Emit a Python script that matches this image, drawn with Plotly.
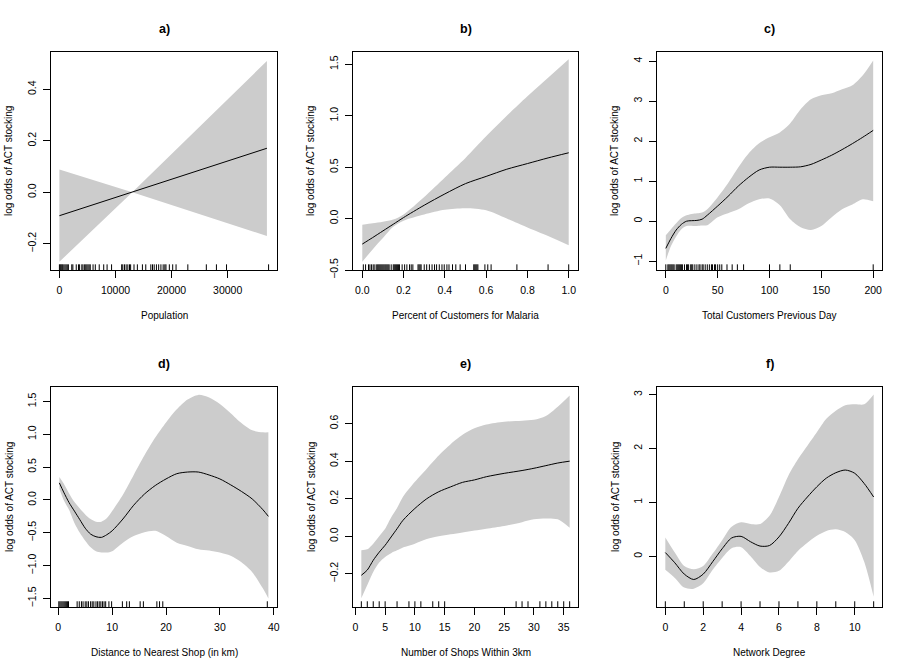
import plotly.graph_objects as go

# ---------------- data ----------------
# a) Population
a_x = [0, 13000, 37000]
a_fit = [-0.091, 0.0, 0.171]
a_lo = [-0.27, 0.0, -0.17]
a_hi = [0.088, 0.0, 0.51]
a_rug = [0, 150, 300, 450, 600, 800, 1000, 1200, 1400, 1600, 2200, 2400, 3000, 3400, 3600,
         4000, 4200, 4500, 4700, 4900, 5100, 5300, 5500, 6000, 6400, 7100, 7900, 8500, 9300,
         11100, 11300, 11600, 11900, 12200, 12500, 12700, 13300, 13900, 14800, 15400, 16300,
         16600, 16900, 17300, 17700, 18100, 18500, 18800, 19000, 19600, 20200, 20800, 22900,
         26200, 28000, 29800, 37300]

# b) Percent of Customers for Malaria
b_x = [0, 0.05, 0.1, 0.15, 0.2, 0.3, 0.4, 0.5, 0.6, 0.7, 0.8, 0.9, 1.0]
b_fit = [-0.248, -0.185, -0.12, -0.055, 0.01, 0.13, 0.24, 0.34, 0.41, 0.48, 0.535, 0.59, 0.64]
b_hi = [-0.06, -0.045, -0.03, -0.01, 0.04, 0.21, 0.40, 0.59, 0.80, 1.0, 1.19, 1.37, 1.55]
b_lo = [-0.42, -0.30, -0.19, -0.08, -0.02, 0.04, 0.085, 0.10, 0.08, 0.0, -0.087, -0.17, -0.26]
b_rug = [0.005, 0.016, 0.03, 0.037, 0.045, 0.053, 0.061, 0.07, 0.075, 0.08, 0.085, 0.09, 0.095,
         0.1, 0.105, 0.11, 0.115, 0.12, 0.125, 0.13, 0.14, 0.15, 0.155, 0.16, 0.165, 0.17, 0.175,
         0.18, 0.193, 0.205, 0.216, 0.229, 0.237, 0.245, 0.27, 0.275, 0.28, 0.285, 0.3, 0.312,
         0.325, 0.338, 0.35, 0.36, 0.373, 0.386, 0.397, 0.41, 0.42, 0.437, 0.453, 0.474, 0.5,
         0.54, 0.545, 0.55, 0.555, 0.56, 0.594, 0.608, 0.624, 0.749, 0.9, 1.0]

# c) Total Customers Previous Day
c_x = [0, 5, 10, 15, 20, 30, 35, 40, 50, 60, 70, 80, 90, 100, 110, 120, 130, 140, 150, 160,
       170, 180, 190, 200]
c_fit = [-0.68, -0.43, -0.22, -0.08, 0.0, 0.02, 0.05, 0.15, 0.38, 0.62, 0.88, 1.1, 1.28, 1.35,
         1.35, 1.35, 1.36, 1.42, 1.53, 1.65, 1.79, 1.94, 2.1, 2.27]
c_hi = [-0.35, -0.2, -0.05, 0.08, 0.15, 0.2, 0.22, 0.3, 0.6, 0.95, 1.35, 1.7, 1.95, 2.1, 2.22,
        2.45, 2.8, 3.05, 3.15, 3.2, 3.3, 3.4, 3.65, 4.02]
c_lo = [-0.98, -0.62, -0.38, -0.2, -0.12, -0.12, -0.11, -0.1, 0.1, 0.2, 0.3, 0.45, 0.55, 0.57,
        0.4, 0.05, -0.15, -0.22, -0.12, 0.1, 0.3, 0.42, 0.55, 0.5]
c_rug = [0, 2, 3, 4, 5, 6, 7, 8, 10, 11, 12, 13, 14, 15, 16, 18, 20, 21, 22, 24, 25, 26, 28,
         30, 32, 33, 35, 36, 38, 40, 42, 44, 45, 47, 48, 50, 52, 54, 59, 64, 69, 75, 100, 110,
         120, 200]

# d) Distance to Nearest Shop (in km)
d_x = [0.2, 1, 2, 3, 4, 5, 6, 7, 8, 9, 10, 12, 14, 16, 18, 20, 22, 24, 26, 28, 30, 32, 34, 36,
       38, 39]
d_fit = [0.26, 0.12, -0.04, -0.17, -0.3, -0.43, -0.52, -0.56, -0.57, -0.53, -0.47, -0.29, -0.08,
         0.09, 0.22, 0.32, 0.40, 0.425, 0.425, 0.38, 0.32, 0.23, 0.13, 0.015, -0.15, -0.25]
d_hi = [0.35, 0.25, 0.1, -0.03, -0.13, -0.22, -0.29, -0.33, -0.33, -0.28, -0.17, 0.08, 0.38,
        0.68, 0.95, 1.18, 1.38, 1.53, 1.6, 1.56, 1.46, 1.32, 1.17, 1.06, 1.03, 1.03]
d_lo = [0.17, 0.0, -0.15, -0.35, -0.5, -0.62, -0.72, -0.78, -0.8, -0.8, -0.78, -0.65, -0.55,
        -0.49, -0.47, -0.55, -0.65, -0.7, -0.75, -0.77, -0.8, -0.85, -0.95, -1.1, -1.35, -1.5]
d_rug = [0.1, 0.3, 0.5, 0.7, 0.9, 1.1, 1.3, 1.5, 1.7, 1.9, 3.5, 3.9, 4.3, 4.6, 5.0, 5.3, 5.6,
         6.0, 6.3, 6.6, 7.0, 7.3, 7.6, 7.9, 8.2, 8.5, 8.8, 9.4, 9.9, 11.9, 12.7, 13.2, 15.2,
         15.8, 18.3, 18.8, 19.4, 38.8]

# e) Number of Shops Within 3km
e_x = [1, 2, 3, 4, 5, 6, 7, 8, 10, 12, 14, 16, 18, 20, 22, 25, 28, 30, 32, 34, 36]
e_fit = [-0.208, -0.18, -0.128, -0.085, -0.048, -0.004, 0.04, 0.085, 0.148, 0.20, 0.237, 0.263,
         0.287, 0.30, 0.317, 0.335, 0.35, 0.362, 0.376, 0.39, 0.40]
e_hi = [-0.075, -0.07, -0.04, 0.0, 0.04, 0.1, 0.15, 0.21, 0.29, 0.36, 0.43, 0.49, 0.54, 0.575,
        0.595, 0.61, 0.615, 0.62, 0.64, 0.69, 0.75]
e_lo = [-0.33, -0.26, -0.19, -0.14, -0.11, -0.09, -0.075, -0.06, -0.04, -0.015, 0.0, 0.01, 0.02,
        0.03, 0.04, 0.055, 0.075, 0.09, 0.095, 0.09, 0.045]
e_rug = [1, 2, 3, 4, 5, 7, 9, 10, 11, 13, 14, 15, 27, 28, 29, 31, 32, 33, 34, 35, 36]

# f) Network Degree
f_x = [0, 0.5, 1, 1.5, 2, 2.5, 3, 3.5, 4, 4.5, 5, 5.5, 6, 6.5, 7, 7.5, 8, 8.5, 9, 9.5, 10,
       10.5, 11]
f_fit = [0.07, -0.12, -0.33, -0.43, -0.33, -0.1, 0.14, 0.34, 0.37, 0.27, 0.19, 0.2, 0.36, 0.61,
         0.89, 1.1, 1.29, 1.45, 1.55, 1.6, 1.54, 1.35, 1.1]
f_hi = [0.35, 0.07, -0.18, -0.24, -0.18, 0.05, 0.3, 0.55, 0.63, 0.6, 0.6, 0.75, 1.1, 1.5, 1.8,
        2.05, 2.3, 2.55, 2.7, 2.8, 2.82, 2.82, 3.0]
f_lo = [-0.25, -0.4, -0.58, -0.6, -0.5, -0.25, -0.03, 0.15, 0.17, 0.0, -0.2, -0.3, -0.27, -0.1,
        0.1, 0.25, 0.38, 0.47, 0.5, 0.45, 0.3, -0.1, -0.75]
f_rug = [0, 1, 2, 3, 4, 5, 6, 7, 8, 9, 10, 11]

titles = ["a)", "b)", "c)", "d)", "e)", "f)"]
xlabels = ["Population", "Percent of Customers for Malaria", "Total Customers Previous Day",
           "Distance to Nearest Shop (in km)", "Number of Shops Within 3km", "Network Degree"]
ylabel = "log odds of ACT stocking"

# ---------------- layout helpers ----------------
W, H = 908, 671
cols_px = [(51, 277), (353, 578), (657, 882)]
rows_px = [(52, 270), (387, 607)]

panels = [
    dict(x=a_x, fit=a_fit, lo=a_lo, hi=a_hi, rug=a_rug, xr=[-1500, 38800], yr=[-0.302, 0.545],
         xt=[0, 10000, 20000, 30000], yt=[-0.2, 0.0, 0.2, 0.4], xf="d", yf=".1f", shape="linear"),
    dict(x=b_x, fit=b_fit, lo=b_lo, hi=b_hi, rug=b_rug, xr=[-0.045, 1.045], yr=[-0.5, 1.62],
         xt=[0, 0.2, 0.4, 0.6, 0.8, 1.0], yt=[-0.5, 0.0, 0.5, 1.0, 1.5], xf=".1f", yf=".1f", shape="spline"),
    dict(x=c_x, fit=c_fit, lo=c_lo, hi=c_hi, rug=c_rug, xr=[-8.5, 208.5], yr=[-1.22, 4.23],
         xt=[0, 50, 100, 150, 200], yt=[-1, 0, 1, 2, 3, 4], xf="d", yf="d", shape="spline"),
    dict(x=d_x, fit=d_fit, lo=d_lo, hi=d_hi, rug=d_rug, xr=[-1.35, 40.6], yr=[-1.63, 1.72],
         xt=[0, 10, 20, 30, 40], yt=[-1.5, -1.0, -0.5, 0.0, 0.5, 1.0, 1.5], xf="d", yf=".1f", shape="spline"),
    dict(x=e_x, fit=e_fit, lo=e_lo, hi=e_hi, rug=e_rug, xr=[-0.4, 37.4], yr=[-0.377, 0.795],
         xt=[0, 5, 10, 15, 20, 25, 30, 35], yt=[-0.2, 0.0, 0.2, 0.4, 0.6], xf="d", yf=".1f", shape="spline"),
    dict(x=f_x, fit=f_fit, lo=f_lo, hi=f_hi, rug=f_rug, xr=[-0.44, 11.44], yr=[-0.94, 3.14],
         xt=[0, 2, 4, 6, 8, 10], yt=[0, 1, 2, 3], xf="d", yf="d", shape="spline"),
]


def px(xv):
    return xv / W


def py(yv):
    return 1 - yv / H


FONT = "Liberation Sans, Arial, Helvetica, sans-serif"
fig = go.Figure()
layout = dict(width=W, height=H, margin=dict(l=0, r=0, t=0, b=0, autoexpand=False),
              showlegend=False, plot_bgcolor="white", paper_bgcolor="white",
              font=dict(family=FONT, size=10, color="black"))
annotations = []

for i, p in enumerate(panels):
    r, c = divmod(i, 3)
    n = i + 1
    xa = "x" if n == 1 else f"x{n}"
    ya = "y" if n == 1 else f"y{n}"
    x0, x1 = cols_px[c]
    y0, y1 = rows_px[r]
    xdom = [px(x0), px(x1)]
    ydom = [py(y1), py(y0)]

    # confidence band: lower edge, then upper edge filled down to it
    fig.add_trace(go.Scatter(
        x=p["x"], y=p["lo"], mode="lines",
        line=dict(width=0, color="rgba(0,0,0,0)", shape=p["shape"], smoothing=0.8),
        xaxis=xa, yaxis=ya, hoverinfo="skip"))
    fig.add_trace(go.Scatter(
        x=p["x"], y=p["hi"], mode="lines", fill="tonexty", fillcolor="#cccccc",
        line=dict(width=0, color="rgba(0,0,0,0)", shape=p["shape"], smoothing=0.8),
        xaxis=xa, yaxis=ya, hoverinfo="skip"))
    # fitted smooth
    fig.add_trace(go.Scatter(
        x=p["x"], y=p["fit"], mode="lines",
        line=dict(color="black", width=1, shape=p["shape"], smoothing=0.8),
        xaxis=xa, yaxis=ya))
    # rug
    span = p["yr"][1] - p["yr"][0]
    rb = p["yr"][0]
    rt = rb + 0.026 * span
    rx, ry = [], []
    for v in p["rug"]:
        rx += [v, v, None]
        ry += [rb, rt, None]
    fig.add_trace(go.Scatter(x=rx, y=ry, mode="lines", line=dict(color="black", width=1),
                             xaxis=xa, yaxis=ya, hoverinfo="skip"))

    axcommon = dict(showgrid=False, zeroline=False, showline=True, linecolor="black",
                    linewidth=1, mirror=True, ticks="outside", ticklen=7, tickwidth=1,
                    tickcolor="black", automargin=False,
                    tickfont=dict(family=FONT, size=10.5, color="black"))
    layout["xaxis" if n == 1 else f"xaxis{n}"] = dict(
        axcommon, domain=xdom, range=p["xr"], anchor=ya, tickvals=p["xt"],
        tickformat=p["xf"], ticklabelstandoff=3)
    layout["yaxis" if n == 1 else f"yaxis{n}"] = dict(
        axcommon, domain=ydom, range=p["yr"], anchor=xa, tickvals=p["yt"],
        tickformat=p["yf"], tickangle=-90, ticklabelstandoff=3)

    cx = px((x0 + x1) / 2)
    annotations.append(dict(text=f"<b>{titles[i]}</b>", xref="paper", yref="paper",
                            x=cx, y=py(y0 - 23), showarrow=False,
                            xanchor="center", yanchor="middle",
                            font=dict(family=FONT, size=12.5, color="black")))
    annotations.append(dict(text=xlabels[i], xref="paper", yref="paper",
                            x=cx, y=py(y1 + 45), showarrow=False,
                            xanchor="center", yanchor="middle",
                            font=dict(family=FONT, size=10, color="black")))
    annotations.append(dict(text=ylabel, xref="paper", yref="paper",
                            x=px(x0 - 42), y=py((y0 + y1) / 2), showarrow=False,
                            textangle=-90, xanchor="center", yanchor="middle",
                            font=dict(family=FONT, size=10, color="black")))

layout["annotations"] = annotations
fig.update_layout(**layout)
# remove the browser's default 8px page margin so the figure fills the window exactly
fig.write_html("out.html",
               config={"displayModeBar": False},
               post_script="document.body.style.margin='0';document.body.style.overflow='hidden';")
